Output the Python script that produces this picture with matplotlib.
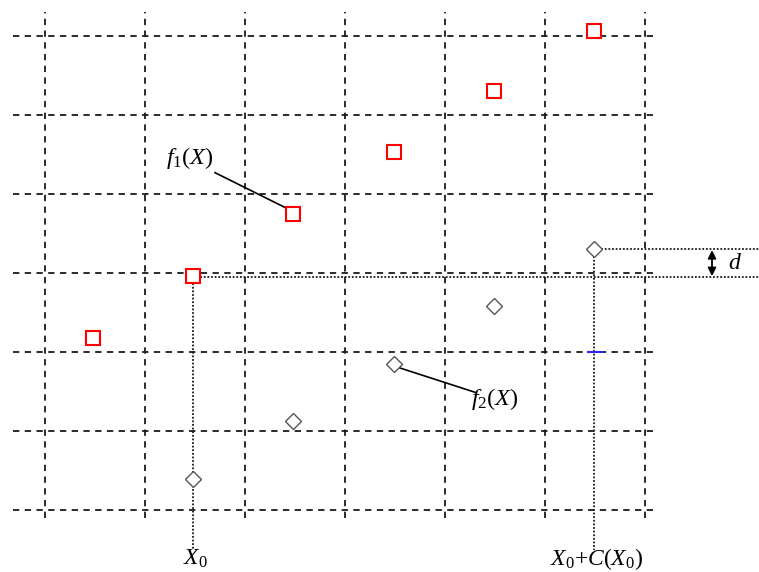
import numpy as np
import matplotlib
matplotlib.use('Agg')
from matplotlib import pyplot as plt

plt.rcParams['mathtext.fontset'] = 'custom'
plt.rcParams['mathtext.rm'] = 'Liberation Serif'
plt.rcParams['mathtext.it'] = 'Liberation Serif:italic'
plt.rcParams['font.family'] = 'Liberation Serif'

# grid positions (in grid units)
grid_x = [0, 1, 2, 3, 4, 5, 6]
grid_y = [0, 1, 2, 3, 4, 5, 6]

# f1(X) points (red squares)
sq_x = [0.48, 1.48, 2.48, 3.49, 4.49, 5.49]
sq_y = [2.18, 2.96, 3.75, 4.53, 5.30, 6.06]

# f2(X) points (diamonds)
dia_x = [1.48, 2.48, 3.49, 4.49, 5.49]
dia_y = [0.39, 1.13, 1.85, 2.58, 3.30]

fig = plt.figure(figsize=(7.59, 5.72), dpi=100)
ax = fig.add_axes([0, 0, 1, 1])
ax.set_xlim(-0.45, 7.14)
ax.set_ylim(-0.785, 6.456)
ax.axis('off')

dash = (0, (3.5, 3))
for gy in grid_y:
    ax.plot([-0.32, 6.08], [gy, gy], color='#1a1a1a', lw=1.3, linestyle=dash)
for gx in grid_x:
    ax.plot([gx, gx], [-0.10, 6.30], color='#1a1a1a', lw=1.3, linestyle=dash)

dot = (0, (1, 1))
x0, y0 = sq_x[1], sq_y[1]
x1, y1 = dia_x[-1], dia_y[-1]
ax.plot([x0, x0], [y0, -0.51], color='#1a1a1a', lw=1.3, linestyle=dot)
ax.plot([x0, 7.15], [y0 - 0.01, y0 - 0.01], color='#1a1a1a', lw=1.3, linestyle=dot)
ax.plot([x1, x1], [y1, -0.51], color='#1a1a1a', lw=1.3, linestyle=dot)
ax.plot([x1, 7.15], [y1, y1], color='#1a1a1a', lw=1.3, linestyle=dot)

# small blue mark
ax.plot([5.43, 5.58], [2.0, 2.0], color='#2a2aee', lw=1.5, zorder=3)

ax.plot(sq_x, sq_y, linestyle='none', marker='s', markersize=10,
        markerfacecolor='white', markeredgecolor='red', markeredgewidth=1.5, zorder=4)
ax.plot(dia_x, dia_y, linestyle='none', marker='D', markersize=8,
        markerfacecolor='white', markeredgecolor='#555555', markeredgewidth=1.0, zorder=4)

# d arrow
ax.annotate('', xy=(6.67, y1 - 0.01), xytext=(6.67, y0),
            arrowprops=dict(arrowstyle='<|-|>', color='black', lw=1.3,
                            mutation_scale=12, shrinkA=0, shrinkB=0))
ax.text(6.9, 3.12, r'$d$', fontsize=17, ha='center', va='center')

# labels with leader lines
ax.plot([1.70, 2.40], [4.27, 3.83], color='black', lw=1.2)
ax.text(1.45, 4.46, r'$f_{1}(X)$', fontsize=17.5, ha='center', va='center')
ax.plot([3.52, 4.30], [1.81, 1.49], color='black', lw=1.2)
ax.text(4.50, 1.41, r'$f_{2}(X)$', fontsize=17.5, ha='center', va='center')

ax.text(1.50, -0.62, r'$X_{0}$', fontsize=17, ha='center', va='center')
ax.text(5.52, -0.62, r'$X_{0}$+$C$($X_{0}$)', fontsize=17, ha='center', va='center')

fig.savefig('out.png', dpi=100)
